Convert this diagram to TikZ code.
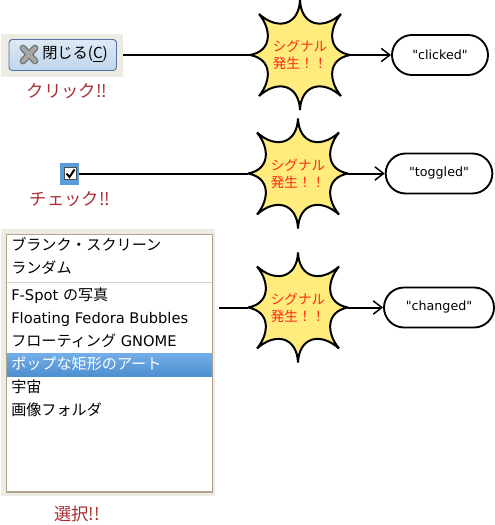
\documentclass[tikz,border=0pt]{standalone}
\usepackage{fontspec}
\setmainfont{DejaVu Sans}
\newfontfamily\latinfont{DejaVu Sans}
\newfontfamily\jp{Noto Sans CJK JP}
\newfontfamily\jprow[Scale=1.03]{Noto Sans CJK JP}
\usetikzlibrary{arrows.meta, positioning, calc}
\definecolor{panelbg}{RGB}{237,235,228}
\definecolor{listframe}{RGB}{176,164,143}
\definecolor{listsep}{RGB}{216,208,200}
\definecolor{burstfill}{RGB}{255,236,124}
\definecolor{signalred}{RGB}{255,40,20}
\definecolor{eventred}{RGB}{170,45,50}
\definecolor{selblue}{RGB}{91,155,217}
\tikzset{
  wire/.style={line width=1.5pt},
  wirearrow/.style={wire, -{Straight Barb[length=6.5pt,width=10pt,line width=1.1pt]}},
  burstline/.style={draw=black, fill=burstfill, line width=1.5pt, line join=miter, miter limit=4},
  signaltext/.style={text=signalred, font=\jp\fontsize{10.2}{12.8}\selectfont, align=left,
    minimum width=75pt, minimum height=82.5pt, inner sep=0pt},
  eventtext/.style={text=eventred, font=\jp\fontsize{13}{15}\selectfont, inner sep=0pt},
  nametag/.style={draw=black, line width=1.4pt, fill=white, rounded corners=15pt,
    inner sep=0pt, minimum height=30pt, font=\latinfont\fontsize{9.5}{11}\selectfont},
  rowtext/.style={anchor=base west, inner sep=0pt, font=\latinfont\fontsize{11}{13}\selectfont}
}
% star outline around a centre
\newcommand{\burstshape}[2]{
  \begin{scope}[shift={(#1,#2)}]
    \draw[burstline] (0,-55) .. controls (-1,-30) and (-22,-24) .. (-41,-41)
      .. controls (-28,-25) and (-28,-4) .. (-50,0)
      .. controls (-28,4) and (-28,25) .. (-41,41)
      .. controls (-22,24) and (-1,30) .. (0,55)
      .. controls (1,30) and (22,24) .. (41,41)
      .. controls (28,25) and (28,4) .. (50,0)
      .. controls (28,-4) and (28,-25) .. (41,-41)
      .. controls (22,-24) and (1,-30) .. cycle;
  \end{scope}
}
\begin{document}
\begin{tikzpicture}[x=0.75pt, y=-0.75pt]
  \useasboundingbox (0,0) rectangle (495,525);

  % button
  \fill[panelbg] (1,34) rectangle (123,77);
  \coordinate (buttonout) at (123,55);
  \draw[draw={rgb,255:red,80;green,115;blue,160}, line width=0.7pt, rounded corners=2.5pt,
    top color={rgb,255:red,222;green,233;blue,245}, bottom color={rgb,255:red,190;green,213;blue,235}]
    (9,39.5) rectangle (116.5,70.5);
  \draw[line width=5pt, line cap=round, color=black!55] (23,48) -- (35,61) (35,48) -- (23,61);
  \draw[line width=3pt, line cap=round, color=black!35] (23,48) -- (35,61) (35,48) -- (23,61);
  \node[anchor=west, inner sep=0pt, font=\jp\fontsize{11.4}{13}\selectfont] (closelabel) at (42,54) {閉じる(\underline{C})};
  \node[eventtext] (clicklabel) at (67,91) {クリック!!};

  % signal 1
  \burstshape{300}{55}
  \node[signaltext] (signalone) at (300,55) {シグナル\\発生！！};
  \node[nametag, minimum width=72pt] (clicked) at (440,55) {"clicked"};
  \draw[wire] (buttonout) -- (signalone.west);
  \draw[wirearrow] (signalone.east) -- (clicked.west);

  % check box
  \fill[selblue] (60,163) rectangle (79,185);
  \draw[draw=black!70, fill=white, line width=0.6pt] (64,167.5) rectangle (76.5,179.5);
  \draw[line width=1.5pt] (66.5,173.5) -- (69.5,177) -- (74.5,169.5);
  \coordinate (checkout) at (79,173.5);
  \node[eventtext] (checklabel) at (70,199) {チェック!!};

  % signal 2
  \burstshape{298}{173.5}
  \node[signaltext] (signaltwo) at (298,173.5) {シグナル\\発生！！};
  \node[nametag, minimum width=80pt] (toggled) at (439,173.5) {"toggled"};
  \draw[wire] (checkout) -- (signaltwo.west);
  \draw[wirearrow] (signaltwo.east) -- (toggled.west);

  % list
  \fill[panelbg] (1,229) rectangle (215,496);
  \draw[draw=listframe, fill=white, line width=0.8pt] (6.5,234.5) rectangle (212.5,492);
  \draw[listsep, line width=0.7pt] (7,282) -- (212,282);
  \fill[top color={rgb,255:red,116;green,174;blue,232}, bottom color={rgb,255:red,78;green,143;blue,208}]
    (7,353) rectangle (212,376);
  \foreach \rowy/\rowname/\rowcolor [count=\n] in {
    250/{\jprow ブランク・スクリーン}/black,
    273/{\jprow ランダム}/black,
    300/{F-Spot {\jprow の写真}}/black,
    323/{Floating Fedora Bubbles}/black,
    346/{{\jprow フローティング} GNOME}/black,
    369/{\jprow ポップな矩形のアート}/white,
    392/{\jprow 宇宙}/black,
    415/{\jprow 画像フォルダ}/black}
    \node[rowtext, text=\rowcolor] (row\n) at (11,\rowy) {\rowname};
  \coordinate (listout) at (219,307.5);
  \node[eventtext] (selectlabel) at (77,514) {選択!!};

  % signal 3
  \burstshape{298}{307.5}
  \node[signaltext] (signalthree) at (298,307.5) {シグナル\\発生！！};
  \node[nametag, minimum width=82.5pt] (changed) at (439,307.5) {"changed"};
  \draw[wire] (listout) -- (signalthree.west);
  \draw[wirearrow] (signalthree.east) -- (changed.west);
\end{tikzpicture}
\end{document}
